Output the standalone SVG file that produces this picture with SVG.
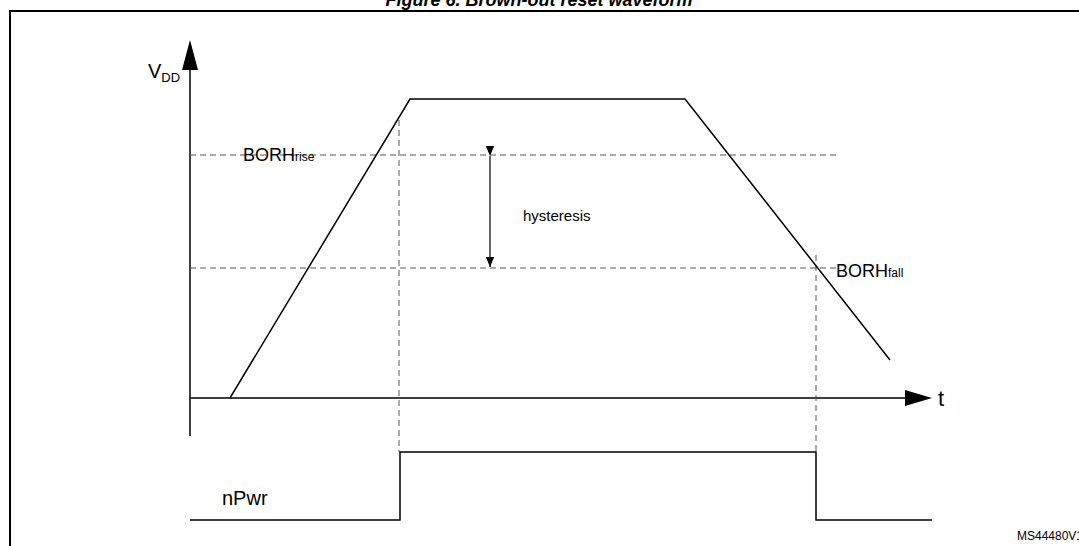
<svg xmlns="http://www.w3.org/2000/svg" width="1079" height="546" viewBox="0 0 1079 546">
<style>
.t{font-family:"Liberation Sans",Arial,sans-serif;fill:#000}
.s{stroke:#000;stroke-width:1.5;fill:none}
.d{stroke:#555;stroke-width:1;stroke-dasharray:6,4;fill:none}
</style>
<defs>
<marker id="a" markerWidth="10" markerHeight="12" refX="12" refY="5" orient="auto" markerUnits="userSpaceOnUse" viewBox="0 0 12 10"><path d="M0,0L12,5L0,10z" fill="#000"/></marker>
</defs>
<rect width="1079" height="546" fill="#fff"/>
<text class="t" x="539" y="6" text-anchor="middle" font-size="18" font-weight="bold" font-style="italic">Figure 6. Brown-out reset waveform</text>
<path d="M10,546V11H1079" stroke="#000" stroke-width="2" fill="none"/>
<g id="axes">
<line class="s" x1="190" y1="436" x2="190" y2="68"/>
<path d="M182,70L190,40L198,70z"/>
<line class="s" x1="190" y1="398" x2="908" y2="398"/>
<path d="M905,390L932,398L905,406z"/>
<text class="t" x="148" y="78" font-size="20">V<tspan font-size="13" dy="4">DD</tspan></text>
<text class="t" x="938" y="406" font-size="22">t</text>
</g>
<g id="connectors">
<line class="d" x1="190" y1="155" x2="836" y2="155"/>
<line class="d" x1="190" y1="268" x2="836" y2="268"/>
<line class="d" x1="399" y1="120" x2="399" y2="452"/>
<line class="d" x1="816" y1="255" x2="816" y2="452"/>
<line class="s" x1="490" y1="156" x2="490" y2="267" marker-start="url(#a)" marker-end="url(#a)" style="stroke-width:1.2"/>
<path class="s" d="M230,398L410,99H685L890,360"/>
<path class="s" d="M190,520H400V452H816V520H932"/>
</g>
<g id="labels">
<text class="t" x="243" y="161" font-size="18">BORH<tspan font-size="12">rise</tspan></text>
<text class="t" x="523" y="221" font-size="15">hysteresis</text>
<text class="t" x="836" y="277" font-size="18">BORH<tspan font-size="12">fall</tspan></text>
<text class="t" x="222" y="505" font-size="20">nPwr</text>
<text class="t" x="1017" y="540" font-size="12">MS44480V1</text>
</g>
</svg>
